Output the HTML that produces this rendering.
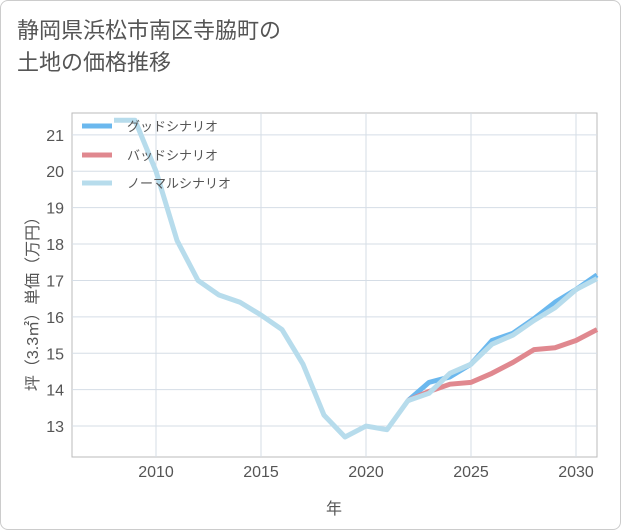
<!DOCTYPE html>
<html><head><meta charset="utf-8"><style>
body{margin:0;background:#fff;}
#card{position:absolute;left:0;top:0;width:619px;height:528px;border:1px solid #ccc;border-radius:8px;background:#fff;}
#title{position:absolute;left:16px;top:14px;font:22px "Liberation Sans","Noto Sans CJK JP",sans-serif;color:#555;line-height:32px;}
svg{position:absolute;left:0;top:0;}
text{font-family:"Liberation Sans","Noto Sans CJK JP",sans-serif;}
</style></head><body>
<div id="card">
<div id="title">静岡県浜松市南区寺脇町の<br>土地の価格推移</div>
</div>
<svg id="chart" width="621" height="530"></svg>
<script>
const years=[2008,2009,2010,2011,2012,2013,2014,2015,2016,2017,2018,2019,2020,2021,2022,2023,2024,2025,2026,2027,2028,2029,2030,2031];
const normal=[21.4,21.4,20.0,18.1,17.0,16.6,16.4,16.05,15.65,14.7,13.3,12.7,13.0,12.9,13.7,13.9,14.45,14.7,15.25,15.5,15.9,16.25,16.75,17.05];
const goodYears=[2022,2023,2024,2025,2026,2027,2028,2029,2030,2031];
const good=[13.7,14.2,14.35,14.7,15.35,15.55,15.95,16.4,16.75,17.15];
const bad=[13.7,13.95,14.15,14.2,14.45,14.75,15.1,15.15,15.35,15.65];
const xTicks=[2010,2015,2020,2025,2030];
const yTicks=[13,14,15,16,17,18,19,20,21];
const L=72,R=597,T=113,B=457,X0=2006,X1=2031,Y0=12.15,Y1=21.6;
const sx=v=>L+(v-X0)/(X1-X0)*(R-L);
const sy=v=>B-(v-Y0)/(Y1-Y0)*(B-T);
const svg=document.getElementById('chart');
const NS='http://www.w3.org/2000/svg';
function mk(t,a){const e=document.createElementNS(NS,t);for(const k in a)e.setAttribute(k,a[k]);svg.appendChild(e);return e;}
let e=mk('rect',{x:L,y:T,width:R-L,height:B-T,fill:'#fff',stroke:'#bbb'});


xTicks.forEach(v=>{
 let g=mk('line',{x1:sx(v),x2:sx(v),y1:T,y2:B,stroke:'#d5dde6'});
 
 
 let t=mk('text',{x:sx(v),y:477,'text-anchor':'middle','font-size':16,fill:'#555'});t.textContent=v;
 
 
});
yTicks.forEach(v=>{
 let g=mk('line',{x1:L,x2:R,y1:sy(v),y2:sy(v),stroke:'#d5dde6'});
 
 
 let t=mk('text',{x:64,y:sy(v)+6,'text-anchor':'end','font-size':16,fill:'#555'});t.textContent=v;
 
 
});
function line(xs,ys,c,name){
 let p=mk('polyline',{points:xs.map((x,i)=>sx(x)+','+sy(ys[i])).join(' '),fill:'none',stroke:c,'stroke-width':5,'stroke-linejoin':'round'});
 
 
}
line(goodYears,good,'#6bb8ee','good-scenario-line');
line(goodYears,bad,'#e0888f','bad-scenario-line');
line(years,normal,'#b7dcec','normal-scenario-line');
[['グッドシナリオ','#6bb8ee',126],['バッドシナリオ','#e0888f',155],['ノーマルシナリオ','#b7dcec',183]].forEach(([n,c,y],i)=>{
 let l=mk('line',{x1:82,x2:112,y1:y,y2:y,stroke:c,'stroke-width':5});
 
 
 let t=mk('text',{x:127,y:y+5,'font-size':13,fill:'#555'});t.textContent=n;
 
 
});
let xt=mk('text',{x:334,y:514,'text-anchor':'middle','font-size':16,fill:'#555'});xt.textContent='年';


let yt=mk('text',{x:0,y:0,'text-anchor':'middle','font-size':16,fill:'#555',transform:'translate(38,300) rotate(-90)'});yt.textContent='坪（3.3㎡）単価（万円）';


</script>
</body></html>
